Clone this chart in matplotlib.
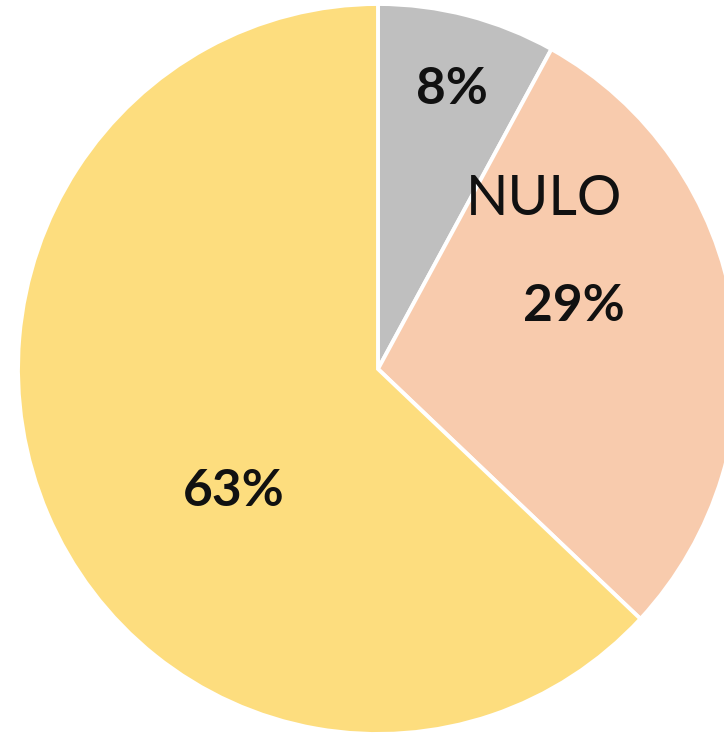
import matplotlib.pyplot as plt

# slices, clockwise from 12 o'clock
shares = [8, 29, 63]
pct_labels = ["8%", "29%", "63%"]
colors = ["#BFBFBF", "#F8CBAD", "#FDDD7E"]
category = "NULO"  # only the peach slice carries a name

W, H = 724, 734
fig = plt.figure(figsize=(W / 100, H / 100), dpi=100)
# pie spans x 18..738 px and y 5..733 px (right edge is cut off)
ax = fig.add_axes([18 / W, 0 / H, 720 / W, 730 / H])
ax.pie(shares, colors=colors, startangle=90, counterclock=False, radius=1,
       wedgeprops=dict(edgecolor="white", linewidth=2.8))
ax.set_aspect("auto")
ax.set_xlim(-1, 1)
ax.set_ylim(-1, 1)
ax.axis("off")

font = ["Lato", "DejaVu Sans"]
# label spots, in pie units (radius = 1)
pct_pos = [(0.205, 0.765), (0.545, 0.17), (-0.40, -0.335)]
for (x, y), t in zip(pct_pos, pct_labels):
    ax.text(x, y, t, ha="center", va="center", fontsize=37,
            fontweight="bold", family=font, color="#111111")
ax.text(0.46, 0.465, category, ha="center", va="center", fontsize=40,
        family=font, color="#111111")

fig.savefig("out.png", dpi=100, facecolor="white")
